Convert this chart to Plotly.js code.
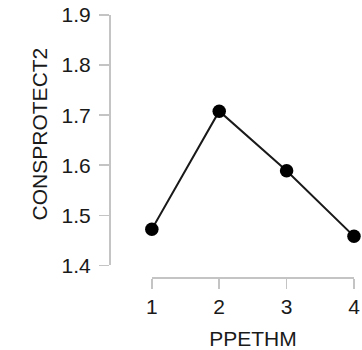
<!DOCTYPE html>
<html>
<head>
<meta charset="utf-8">
<script src="https://cdn.plot.ly/plotly-3.0.1.min.js"></script>
<style>
html,body{margin:0;padding:0;background:#fff;}
#chart{width:362px;height:350px;}
</style>
</head>
<body>
<div id="chart"></div>
<script>
const ppethm = [1, 2, 3, 4];
const consprotect2 = [1.472, 1.708, 1.589, 1.458];
const xTicks = [1, 2, 3, 4];
const yTicks = [1.4, 1.5, 1.6, 1.7, 1.8, 1.9];
const xLabel = 'PPETHM';
const yLabel = 'CONSPROTECT2';

const font = 'Liberation Sans, Arial, Helvetica, sans-serif';
const axisGray = '#c4c4c4';
const textCol = '#1a1a1a';
const fs = 21;

const trace = {
  x: ppethm,
  y: consprotect2,
  type: 'scatter',
  mode: 'lines+markers',
  line: {color: '#1a1a1a', width: 2},
  marker: {color: '#000000', size: 13.5},
  cliponaxis: false,
  hoverinfo: 'skip'
};

const layout = {
  width: 362,
  height: 350,
  margin: {l: 108.5, r: 7.5, t: 15, b: 73.1, pad: 0},
  paper_bgcolor: '#ffffff',
  plot_bgcolor: '#ffffff',
  showlegend: false,
  font: {family: font, size: fs, color: textCol},
  xaxis: {
    domain: [0.1748, 1],
    range: [1, 4],
    anchor: 'free',
    position: 0,
    tickmode: 'array',
    tickvals: xTicks,
    ticktext: xTicks.map(String),
    showline: true,
    linecolor: axisGray,
    linewidth: 1.5,
    ticks: 'outside',
    ticklen: 10,
    tickwidth: 1.5,
    tickcolor: axisGray,
    showgrid: false,
    zeroline: false,
    tickfont: {family: font, size: fs, color: textCol},
    title: {text: xLabel, font: {family: font, size: fs, color: textCol}, standoff: 17.5}
  },
  yaxis: {
    domain: [0.0443, 1],
    range: [1.4, 1.9],
    anchor: 'free',
    position: 0,
    tickmode: 'array',
    tickvals: yTicks,
    ticktext: yTicks.map(v => v.toFixed(1)),
    showline: true,
    linecolor: axisGray,
    linewidth: 1.5,
    ticks: 'outside',
    ticklen: 10,
    tickwidth: 1.5,
    tickcolor: axisGray,
    ticklabelstandoff: 4,
    showgrid: false,
    zeroline: false,
    tickfont: {family: font, size: fs, color: textCol}
  },
  annotations: [{
    text: yLabel,
    xref: 'paper', yref: 'paper',
    x: -0.2834, y: 0.5465,
    xanchor: 'center', yanchor: 'middle',
    textangle: -90,
    showarrow: false,
    font: {family: font, size: fs, color: textCol}
  }]
};

Plotly.newPlot('chart', [trace], layout, {staticPlot: true, displayModeBar: false});
</script>
</body>
</html>
